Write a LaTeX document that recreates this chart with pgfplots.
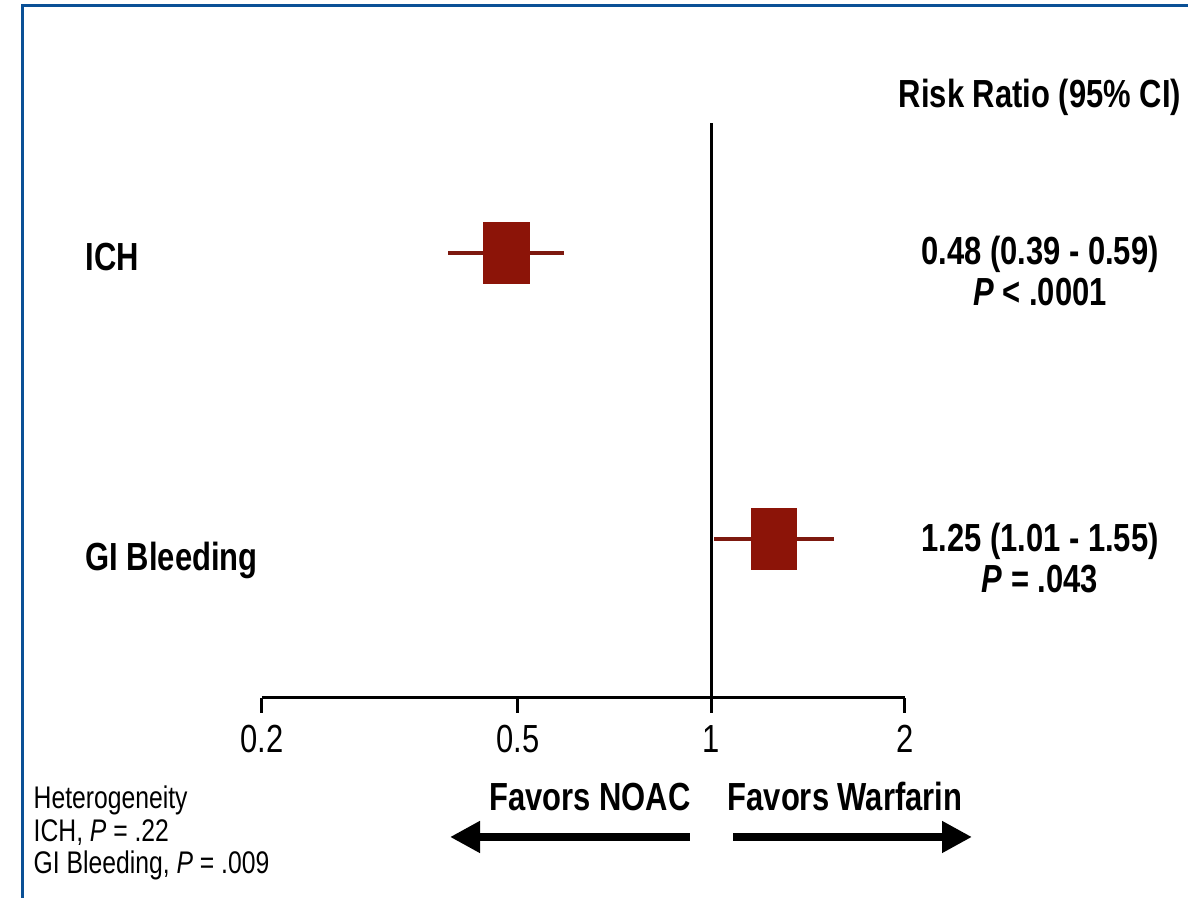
\documentclass[border=0pt]{standalone}
\usepackage{pgfplots}
\pgfplotsset{compat=1.18}
\usepackage{fontspec}
\setmainfont{Liberation Sans}[FakeStretch=0.79]
\usetikzlibrary{arrows.meta}
\definecolor{bordblue}{RGB}{10,80,150}
\definecolor{boxred}{RGB}{140,20,8}
\definecolor{cired}{RGB}{125,25,15}
\newcommand\fntB{\fontsize{11.15pt}{13pt}\selectfont\bfseries}
\newcommand\fntR{\fontsize{11.15pt}{13pt}\selectfont}
\newcommand\fntS{\fontsize{8.9pt}{10pt}\selectfont}
\begin{document}
\begin{tikzpicture}[x=1cm,y=1cm]
\path[use as bounding box, fill=white] (0,0) rectangle (11.88,8.98);
\draw[bordblue, line width=0.03cm] (0.23,0) -- (0.23,8.92) -- (11.88,8.92);
\begin{axis}[
  at={(2.62cm,2.00cm)}, anchor=south west,
  scale only axis, width=6.43cm, height=5.75cm,
  xmode=log, xmin=0.2, xmax=2, ymin=0, ymax=575,
  axis x line=bottom, axis y line=none,
  x axis line style={-, line width=0.85pt, black},
  xtick={0.2,0.5,1,2}, xticklabels={0.2,0.5,1,2},
  minor xtick={},
  tick align=outside, major tick length=0.15cm,
  tick style={black, line width=0.85pt},
  xticklabel style={font=\fntR, text=black},
  clip=false,
]
\addplot[no marks, black, line width=0.6pt] coordinates {(1,0) (1,575)};
\addplot[no marks, cired, line width=1.1pt] coordinates {(0.39,445) (0.59,445)};
\addplot[no marks, cired, line width=1.1pt] coordinates {(1.01,159) (1.55,159)};
\addplot[only marks, mark=square*, mark size=8.5pt, mark options={xscale=0.75, fill=boxred, draw=boxred}] coordinates {(0.48,445) (1.25,159)};
\end{axis}
\node[font=\fntB, inner sep=0] at (10.40,8.01) {Risk Ratio (95\% CI)};
\node[font=\fntB, inner sep=0] at (10.40,6.44) {0.48 (0.39 - 0.59)};
\node[font=\fntB, inner sep=0] at (10.40,6.06) {\itshape P\upshape{} < .0001};
\node[font=\fntB, inner sep=0] at (10.40,3.57) {1.25 (1.01 - 1.55)};
\node[font=\fntB, inner sep=0] at (10.40,3.19) {\itshape P\upshape{} = .043};
\node[font=\fntB, inner sep=0, anchor=west] at (0.85,6.41) {ICH};
\node[font=\fntB, inner sep=0, anchor=west] at (0.85,3.38) {GI Bleeding};
\node[font=\fntB, inner sep=0] at (5.90,1.01) {Favors NOAC};
\node[font=\fntB, inner sep=0] at (8.45,1.01) {Favors Warfarin};
\draw[line width=0.08cm, -{Triangle[length=0.3cm, width=0.3cm]}] (6.90,0.61) -- (4.50,0.61);
\draw[line width=0.08cm, -{Triangle[length=0.3cm, width=0.3cm]}] (7.33,0.61) -- (9.72,0.61);
\node[font=\fntS, inner sep=0, anchor=base west] at (0.33,0.89) {Heterogeneity};
\node[font=\fntS, inner sep=0, anchor=base west] at (0.33,0.56) {ICH, \itshape P\upshape{} = .22};
\node[font=\fntS, inner sep=0, anchor=base west] at (0.33,0.24) {GI Bleeding, \itshape P\upshape{} = .009};
\end{tikzpicture}
\end{document}
